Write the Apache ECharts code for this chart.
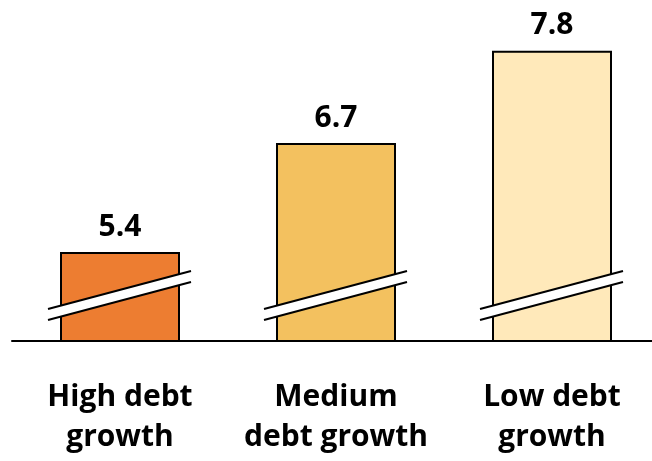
<!DOCTYPE html>
<html>
<head>
<meta charset="utf-8">
<script src="https://cdn.jsdelivr.net/npm/echarts@6/dist/echarts.min.js"></script>
<style>html,body{margin:0;padding:0;background:#fff;}#c{width:652px;height:461px;}</style>
</head>
<body>
<div id="c"></div>
<script>
const categories = ['High debt\ngrowth', 'Medium\ndebt growth', 'Low debt\ngrowth'];
const values = [5.4, 6.7, 7.8];
const barColors = ['#ED7D31', '#F3C15F', '#FFE9BA'];
const axisMin = 4.34;
const axisMax = 8.0;

const chart = echarts.init(document.getElementById('c'), null, {renderer: 'canvas'});
const FONT = '"Open Sans", Lato, sans-serif';

function renderBreak(params, api) {
  const idx = api.value(0);
  const base = api.coord([idx, axisMin]);
  const cx = base[0], by = base[1];
  const xl = cx - 72, xr = cx + 71;
  const yl = by - 32, yr = by - 70, gap = 11;
  return {
    type: 'group',
    children: [
      {type: 'polygon', shape: {points: [[xl, yl], [xr, yr], [xr, yr + gap], [xl, yl + gap]]}, style: {fill: '#fff'}},
      {type: 'line', shape: {x1: xl, y1: yl, x2: xr, y2: yr}, style: {stroke: '#000', lineWidth: 2}},
      {type: 'line', shape: {x1: xl, y1: yl + gap, x2: xr, y2: yr + gap}, style: {stroke: '#000', lineWidth: 2}}
    ]
  };
}

chart.setOption({
  animation: false,
  grid: {left: 12, width: 648, top: 34, bottom: 120, containLabel: false, outerBoundsMode: 'none'},
  xAxis: {
    type: 'category',
    data: categories,
    axisLine: {lineStyle: {color: '#000', width: 2}},
    axisTick: {show: false},
    axisLabel: {color: '#000', fontFamily: FONT, fontWeight: 'bold', fontSize: 30, lineHeight: 40, margin: 36, interval: 0}
  },
  yAxis: {type: 'value', min: axisMin, max: axisMax, show: false, splitLine: {show: false}},
  series: [
    {
      type: 'bar',
      barWidth: 120,
      data: values.map((v, i) => ({value: v, itemStyle: {color: barColors[i]}})),
      itemStyle: {borderColor: '#000', borderWidth: 2},
      label: {show: true, position: 'top', distance: 10, color: '#000', fontFamily: FONT, fontWeight: 'bold', fontSize: 30, formatter: p => p.value.toFixed(1)},
      z: 2
    },
    {
      type: 'custom',
      renderItem: renderBreak,
      data: values.map((v, i) => [i]),
      z: 5,
      silent: true
    }
  ]
});
</script>
</body>
</html>
